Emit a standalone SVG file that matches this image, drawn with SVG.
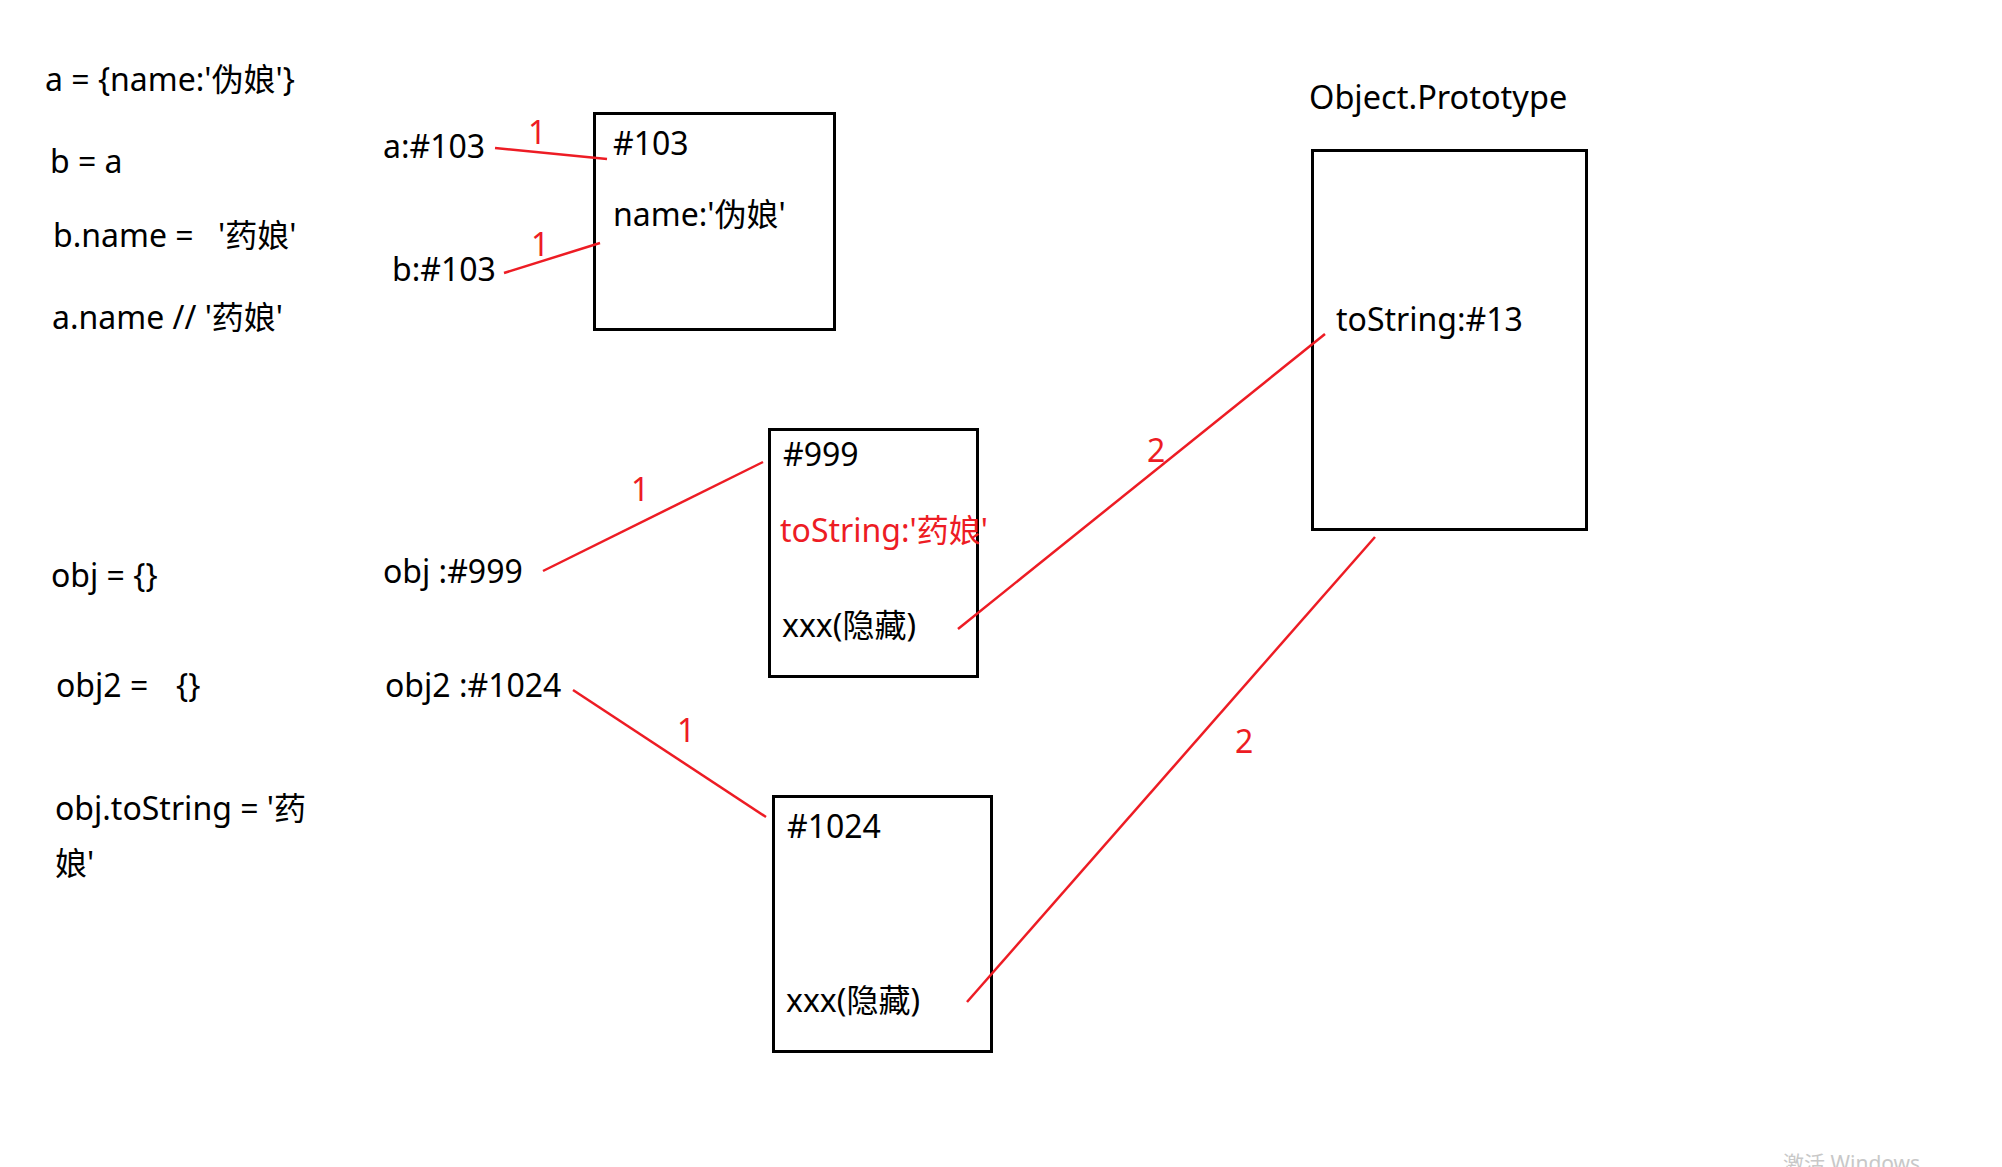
<svg xmlns="http://www.w3.org/2000/svg" width="2002" height="1167" viewBox="0 0 2002 1167">
<style>
text{font-family:"Noto Sans","Noto Sans CJK SC",sans-serif;font-size:32px;fill:#000;white-space:pre}
.red{fill:#ed1c24}
.box{fill:#fff;stroke:#000;stroke-width:3}
.link{stroke:#ed1c24;stroke-width:2.5;fill:none}
.wm{fill:#c8c8c8;font-size:21px}
</style>
<rect width="2002" height="1167" fill="#fff"/>
<g id="code">
<text x="45" y="91">a = {name:'伪娘'}</text>
<text x="50" y="173">b = a</text>
<text x="53" y="247">b.name =<tspan x="218">'药娘'</tspan></text>
<text x="52" y="329">a.name // '药娘'</text>
<text x="51" y="587">obj = {}</text>
<text x="56" y="697">obj2 =<tspan x="176">{}</tspan></text>
<text x="55" y="820">obj.toString = '药</text>
<text x="55" y="875">娘'</text>
</g>
<g id="refs">
<text x="383" y="158">a:#103</text>
<text x="392" y="281">b:#103</text>
<text x="383" y="583">obj :#999</text>
<text x="385" y="697">obj2 :#1024</text>
</g>
<g id="node-103">
<rect class="box" x="594.5" y="113.5" width="240" height="216"/>
<text x="613" y="155">#103</text>
<text x="613" y="226">name:'伪娘'</text>
</g>
<g id="node-999">
<rect class="box" x="769.5" y="429.5" width="208" height="247"/>
<text x="783" y="466">#999</text>
<text class="red" x="780" y="542">toString:'药娘'</text>
<text x="782" y="637">xxx(隐藏)</text>
</g>
<g id="node-1024">
<rect class="box" x="773.5" y="796.5" width="218" height="255"/>
<text x="787" y="838">#1024</text>
<text x="786" y="1012">xxx(隐藏)</text>
</g>
<g id="node-proto">
<text x="1309" y="109" style="font-size:32.5px">Object.Prototype</text>
<rect class="box" x="1312.5" y="150.5" width="274" height="379"/>
<text x="1336" y="331">toString:#13</text>
</g>
<g id="connectors">
<line class="link" x1="495" y1="148" x2="607" y2="159"/>
<line class="link" x1="504" y1="273" x2="600" y2="243"/>
<line class="link" x1="543" y1="571" x2="763" y2="462"/>
<line class="link" x1="573" y1="690" x2="766" y2="817"/>
<line class="link" x1="958" y1="629" x2="1325" y2="334"/>
<line class="link" x1="967" y1="1002" x2="1375" y2="537"/>
<text class="red" x="528" y="144">1</text>
<text class="red" x="531" y="256">1</text>
<text class="red" x="631" y="501">1</text>
<text class="red" x="677" y="742">1</text>
<text class="red" x="1147" y="462">2</text>
<text class="red" x="1235" y="753">2</text>
</g>
<text class="wm" x="1783" y="1171">激活 Windows</text>
</svg>
